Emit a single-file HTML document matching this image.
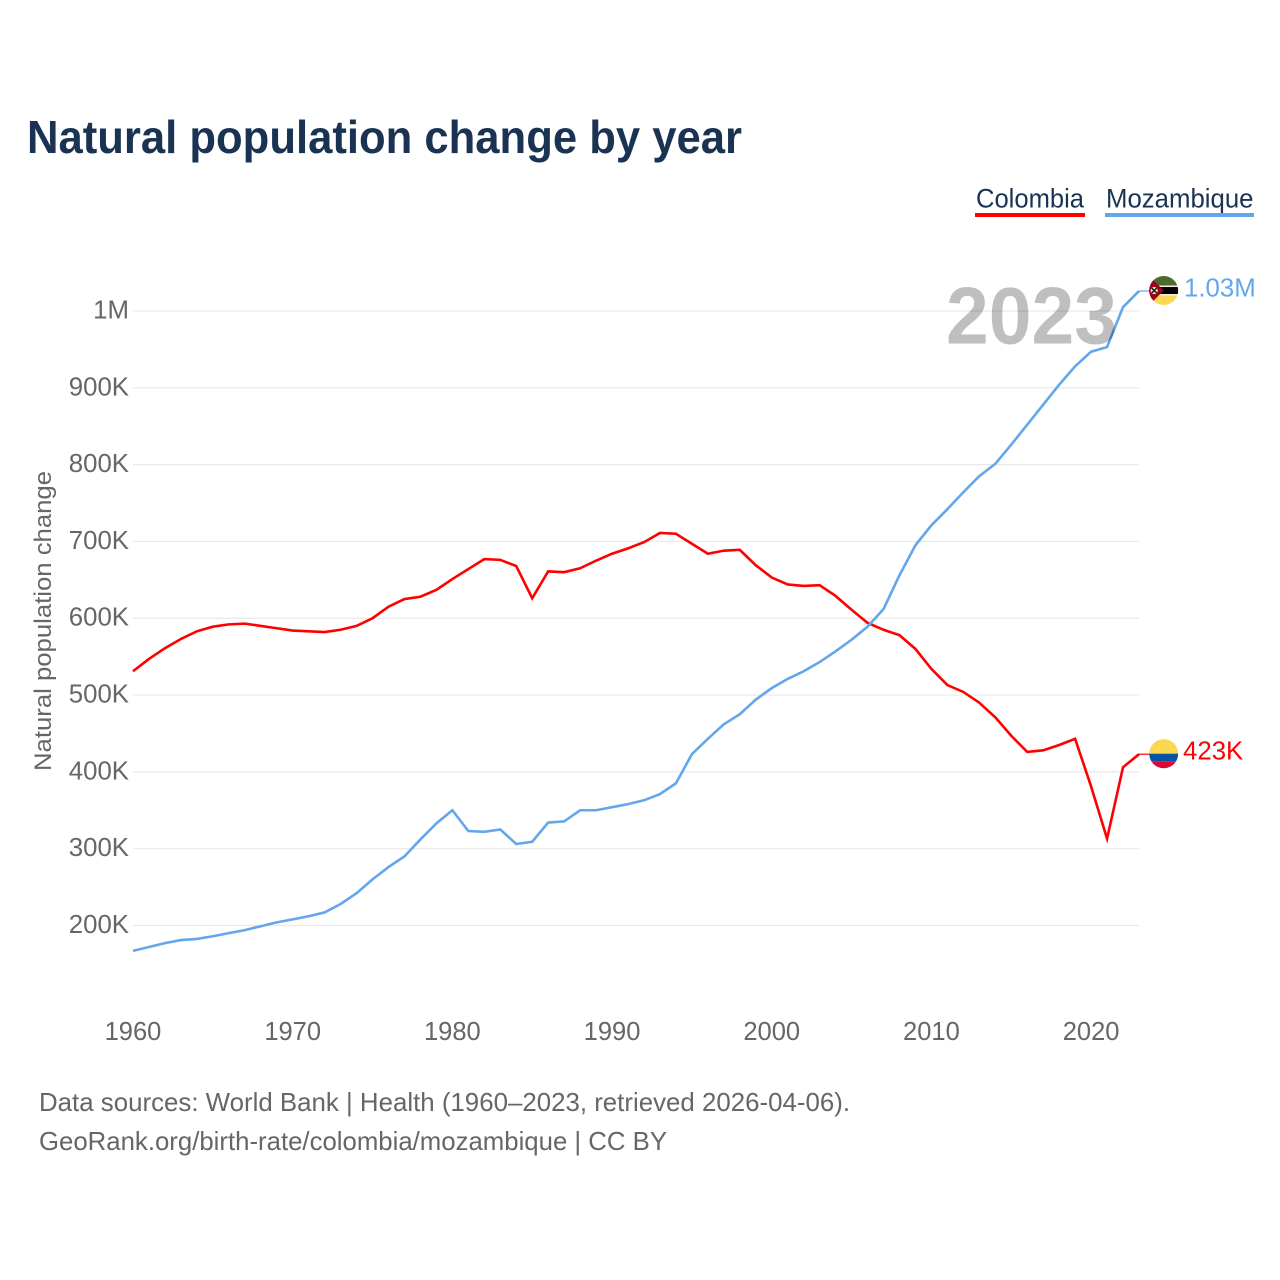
<!DOCTYPE html>
<html lang="en">
<head>
<meta charset="utf-8">
<title>Natural population change by year</title>
<style>
html,body{margin:0;padding:0;background:#fff;}
svg{display:block;}
text{font-family:"Liberation Sans",sans-serif;}
</style>
</head>
<body>
<svg id="chart" xmlns="http://www.w3.org/2000/svg" width="1280" height="1280" viewBox="0 0 1280 1280">
  <rect width="1280" height="1280" fill="#ffffff"/>
  <defs>
    <clipPath id="clip-moz"><circle id="clip-moz-c" cx="0" cy="0" r="14.5"/></clipPath>
    <clipPath id="clip-col"><circle id="clip-col-c" cx="0" cy="0" r="14.5"/></clipPath>
  </defs>
  <text x="27" y="153" font-size="46" font-weight="700" fill="#1a3353" textLength="715" lengthAdjust="spacingAndGlyphs">Natural population change by year</text>
  <g>
    <g>
      <text x="976" y="207.5" font-size="26.5" fill="#1a3353" textLength="108" lengthAdjust="spacingAndGlyphs">Colombia</text>
      <rect x="975" y="213" width="110" height="4" fill="#ff0000"/>
    </g>
    <g>
      <text x="1106" y="207.5" font-size="26.5" fill="#1a3353" textLength="147.5" lengthAdjust="spacingAndGlyphs">Mozambique</text>
      <rect x="1105" y="213" width="149" height="4" fill="#63a6ec"/>
    </g>
  </g>
  <g id="grid"></g>
  <g id="yticks"></g>
  <g id="xticks"></g>
  <text transform="translate(51,621) rotate(-90)" text-anchor="middle" font-size="24" fill="#666666" textLength="300" lengthAdjust="spacingAndGlyphs">Natural population change</text>
  <g id="series"></g>
  <text x="946" y="343.5" font-size="81" font-weight="700" fill="#000000" fill-opacity="0.25" textLength="171" lengthAdjust="spacingAndGlyphs">2023</text>
  <g id="flag-mozambique">
    <g clip-path="url(#clip-moz)">
      <rect x="-15" y="-15" width="30" height="10" fill="#4d6b2c"/>
      <rect x="-15" y="-5" width="30" height="1.5" fill="#f4e9e4"/>
      <rect x="-15" y="-3.5" width="30" height="7" fill="#000000"/>
      <rect x="-15" y="3.5" width="30" height="1.5" fill="#f4e9e4"/>
      <rect x="-15" y="5" width="30" height="10" fill="#fcd856"/>
      <polygon points="-15,-15 0,0 -15,15" fill="#a2001d"/>
      <circle cx="-9.5" cy="0" r="3.6" fill="#f4e3a8"/>
      <path d="M-12,-2.5 L-7,2.5 M-7,-2.5 L-12,2.5" stroke="#111111" stroke-width="1.4" fill="none"/>
    </g>
  </g>
  <g id="flag-colombia">
    <g clip-path="url(#clip-col)">
      <rect x="-15" y="-15" width="30" height="15" fill="#fcd751"/>
      <rect x="-15" y="0" width="30" height="7.5" fill="#0a52a5"/>
      <rect x="-15" y="7.5" width="30" height="7.5" fill="#d80a35"/>
    </g>
  </g>
  <text x="39" y="1111" font-size="26" fill="#666666" textLength="811" lengthAdjust="spacingAndGlyphs">Data sources: World Bank | Health (1960–2023, retrieved 2026-04-06).</text>
  <text x="39" y="1150" font-size="26" fill="#666666" textLength="628" lengthAdjust="spacingAndGlyphs">GeoRank.org/birth-rate/colombia/mozambique | CC BY</text>
</svg>
<script>
const years = [1960,1961,1962,1963,1964,1965,1966,1967,1968,1969,1970,1971,1972,1973,1974,1975,1976,1977,1978,1979,1980,1981,1982,1983,1984,1985,1986,1987,1988,1989,1990,1991,1992,1993,1994,1995,1996,1997,1998,1999,2000,2001,2002,2003,2004,2005,2006,2007,2008,2009,2010,2011,2012,2013,2014,2015,2016,2017,2018,2019,2020,2021,2022,2023];
const colombiaValues = [531,547,561,573,583,589,592,593,590,587,584,583,582,585,590,600,615,625,628,637,651,664,677,676,668,626,661,660,665,675,684,691,699,711,710,697,684,688,689,669,653,644,642,643,629,611,594,585,578,560,534,513,504,490,471,447,426,428,435,443,381,313,406,423];
const mozambiqueValues = [167,172,177,181,182.5,186,190,194,199,204,208,212,217,228,242,260,276,290,312,333,350,323,322,325,306,309,334,335.5,350,350,354,358,363,371,385,423,443,462,475,494,509,521,531,543,557,572,589,612,656,695,721,742,764,785,801,826,852,878,904,928,947,953,1005,1026];
const yTickValues = [200,300,400,500,600,700,800,900,1000];
const yTickLabels = ["200K","300K","400K","500K","600K","700K","800K","900K","1M"];
const xTickValues = [1960,1970,1980,1990,2000,2010,2020];
const xTickLabels = ["1960","1970","1980","1990","2000","2010","2020"];

const NS = "http://www.w3.org/2000/svg";
function xScale(year){ return 133 + (year - 1960) * (1139 - 133) / 63; }
function yScale(v){ return 311 + (1000 - v) * 0.7681; }
function formatValue(v){
  if (v >= 1000) { return (v / 1000).toFixed(2) + "M"; }
  return Math.round(v) + "K";
}

const gridG = document.getElementById("grid");
const yG = document.getElementById("yticks");
const xG = document.getElementById("xticks");
const seriesG = document.getElementById("series");

yTickValues.forEach(function(v, i){
  const line = document.createElementNS(NS, "line");
  
  
  line.setAttribute("x1", 133);
  line.setAttribute("x2", 1139);
  line.setAttribute("y1", yScale(v));
  line.setAttribute("y2", yScale(v));
  line.setAttribute("stroke", "#e9e9e9");
  line.setAttribute("stroke-width", "1.2");
  gridG.appendChild(line);
  const t = document.createElementNS(NS, "text");
  
  
  t.setAttribute("x", 129);
  t.setAttribute("y", yScale(v) + 7.5);
  t.setAttribute("text-anchor", "end");
  t.setAttribute("font-size", "25.8");
  t.setAttribute("fill", "#666666");
  t.textContent = yTickLabels[i];
  yG.appendChild(t);
});

xTickValues.forEach(function(v, i){
  const t = document.createElementNS(NS, "text");
  
  
  t.setAttribute("x", xScale(v));
  t.setAttribute("y", 1040);
  t.setAttribute("text-anchor", "middle");
  t.setAttribute("font-size", "25.5");
  t.setAttribute("fill", "#666666");
  t.textContent = xTickLabels[i];
  xG.appendChild(t);
});

function linePath(values){
  return values.map(function(v, i){
    return (i ? "L" : "M") + xScale(years[i]).toFixed(2) + " " + yScale(v).toFixed(2);
  }).join(" ");
}
const FLAG_X = 1163.7;
const LABEL_Y_OFFSET = 5.5;

function drawSeries(values, color, lineName, connectorName, labelName, labelX, flagId){
  const last = values[values.length - 1];
  const endX = xScale(years[years.length - 1]);
  const endY = yScale(last);

  const path = document.createElementNS(NS, "path");
  
  
  path.setAttribute("d", linePath(values));
  path.setAttribute("fill", "none");
  path.setAttribute("stroke", color);
  path.setAttribute("stroke-width", "2.6");
  path.setAttribute("stroke-linejoin", "miter");
  seriesG.appendChild(path);

  const conn = document.createElementNS(NS, "line");
  
  
  conn.setAttribute("x1", endX);
  conn.setAttribute("x2", FLAG_X - 14);
  conn.setAttribute("y1", endY);
  conn.setAttribute("y2", endY);
  conn.setAttribute("stroke", color);
  conn.setAttribute("stroke-width", "1.2");
  seriesG.appendChild(conn);

  const label = document.createElementNS(NS, "text");
  
  
  label.setAttribute("x", labelX);
  label.setAttribute("y", endY + LABEL_Y_OFFSET);
  label.setAttribute("font-size", "25.8");
  label.setAttribute("fill", color);
  label.textContent = formatValue(last);
  seriesG.appendChild(label);

  document.getElementById(flagId).setAttribute("transform", "translate(" + FLAG_X + "," + (endY - 0.5) + ")");
}

drawSeries(colombiaValues, "#ff0000", "colombia-line", "colombia-connector", "colombia-end-label", 1183, "flag-colombia");
drawSeries(mozambiqueValues, "#63a6ec", "mozambique-line", "mozambique-connector", "mozambique-end-label", 1184, "flag-mozambique");
</script>
</body>
</html>
